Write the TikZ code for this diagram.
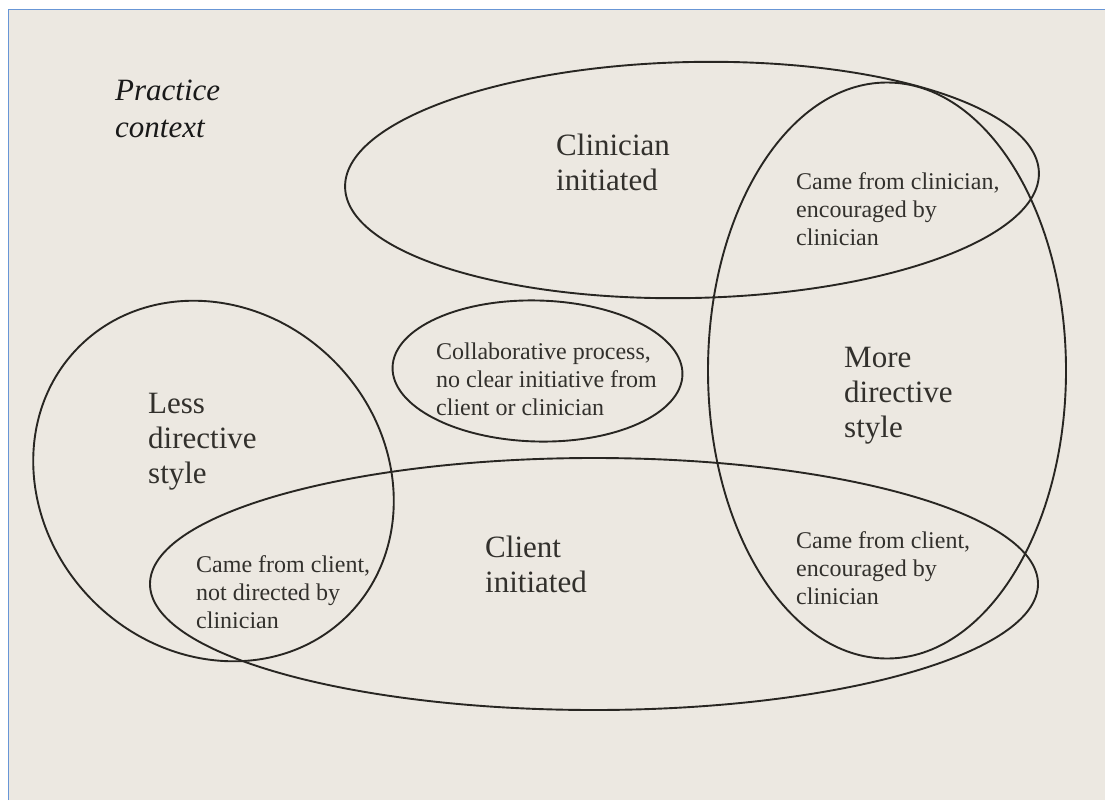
\documentclass[tikz,border=0pt]{standalone}
\usepackage{fontspec}
\setmainfont{Liberation Serif}
\usetikzlibrary{shapes.geometric}
\definecolor{paper}{RGB}{236,232,225}
\definecolor{frameblue}{RGB}{104,150,214}
\definecolor{ink}{RGB}{40,38,34}
\definecolor{textgray}{RGB}{50,48,44}

\begin{document}
\begin{tikzpicture}[x=1pt,y=-1pt,
   region/.style={draw=ink, line width=1.9pt, ellipse, inner sep=0pt},
   big/.style={font=\fontsize{31}{35}\selectfont, text=textgray,
               align=left, anchor=base west, inner sep=0pt},
   small/.style={font=\fontsize{24}{28}\selectfont, text=textgray,
                 align=left, anchor=base west, inner sep=0pt},
   context/.style={big, font=\itshape\fontsize{31}{37}\selectfont, text=black!90}]

\useasboundingbox (0,0) rectangle (1105,800);
\fill[white] (0,0) rectangle (1105,800);
\fill[paper] (8.5,9.5) rectangle (1105,800);
\draw[frameblue, line width=1.6pt] (8.5,800) -- (8.5,9.5) -- (1105,9.5);

\node[region, minimum width=694pt, minimum height=236pt, rotate=1.2] (clinell) at (692,180) {};
\node[region, minimum width=358pt, minimum height=576pt] (moreell) at (887,370.5) {};
\node[region, minimum width=380pt, minimum height=340pt, rotate=-45] (lessell) at (213.5,481) {};
\node[region, minimum width=888pt, minimum height=252pt] (clientell) at (594,584) {};
\node[region, minimum width=290pt, minimum height=141pt, rotate=-1.5] (collabell) at (537.5,371) {};

\node[context] (practice) at (115,137) {Practice\\context};
\node[big] (clinlabel) at (556,190) {Clinician\\initiated};
\node[big] (lesslabel) at (148,483) {Less\\directive\\style};
\node[big] (morelabel) at (844,437) {More\\directive\\style};
\node[big] (clientlabel) at (485,592) {Client\\initiated};
\node[small] (clinboth) at (796,245) {Came from clinician,\\encouraged by\\clinician};
\node[small] (collab) at (436,415) {Collaborative process,\\no clear initiative from\\client or clinician};
\node[small] (clientnot) at (196,628) {Came from client,\\not directed by\\clinician};
\node[small] (clientenc) at (796,604) {Came from client,\\encouraged by\\clinician};

\end{tikzpicture}
\end{document}
